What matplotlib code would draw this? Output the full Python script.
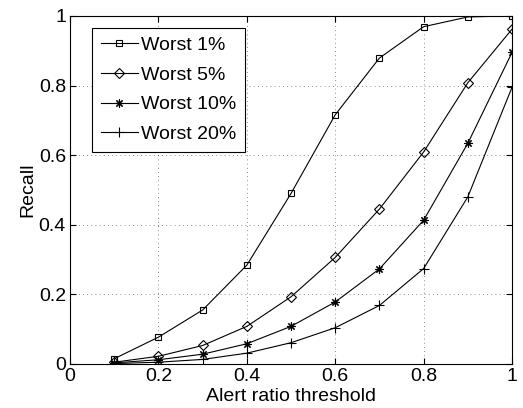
import matplotlib
matplotlib.use('Agg')
import matplotlib.pyplot as plt

plt.rcParams['font.family'] = ['Liberation Sans', 'DejaVu Sans']

# Data
threshold = [0.1, 0.2, 0.3, 0.4, 0.5, 0.6, 0.7, 0.8, 0.9, 1.0]
worst_1 = [0.015, 0.077, 0.155, 0.284, 0.49, 0.716, 0.879, 0.969, 0.997, 1.0]
worst_5 = [0.005, 0.022, 0.053, 0.108, 0.193, 0.306, 0.445, 0.609, 0.808, 0.962]
worst_10 = [0.003, 0.012, 0.028, 0.058, 0.108, 0.178, 0.273, 0.413, 0.634, 0.895]
worst_20 = [0.001, 0.005, 0.013, 0.031, 0.061, 0.104, 0.168, 0.274, 0.48, 0.795]

# label, values, marker, size
series = [
    ('Worst 1%', worst_1, 's', 5),
    ('Worst 5%', worst_5, 'D', 5),
    ('Worst 10%', worst_10, (8, 2, 0), 6),
    ('Worst 20%', worst_20, '+', 7),
]

fig = plt.figure(figsize=(5.23, 4.08), dpi=100)
ax = fig.add_axes([0.134, 0.108, 0.845, 0.853])

for label, vals, mk, ms in series:
    ax.plot(threshold, vals, color='black', lw=0.8, marker=mk, ms=ms,
            mfc='none', mec='black', mew=0.8, label=label)

ax.set_xlim(0, 1)
ax.set_ylim(0, 1)
ax.set_xticks([0, 0.2, 0.4, 0.6, 0.8, 1])
ax.set_yticks([0, 0.2, 0.4, 0.6, 0.8, 1])
ax.set_xticklabels(['0', '0.2', '0.4', '0.6', '0.8', '1'])
ax.set_yticklabels(['0', '0.2', '0.4', '0.6', '0.8', '1'])
ax.tick_params(direction='in', top=True, right=True, labelsize=14, length=4, width=0.8, pad=3)
ax.grid(True, linestyle=(0, (1, 4)), color='black', lw=0.6, alpha=0.6)
for s in ax.spines.values():
    s.set_linewidth(0.8)

ax.set_xlabel('Alert ratio threshold', fontsize=14, labelpad=2)
ax.set_ylabel('Recall', fontsize=14, labelpad=2)

leg = ax.legend(loc='upper left', bbox_to_anchor=(0.05, 0.966), borderaxespad=0,
                fontsize=14, fancybox=False, edgecolor='black', framealpha=1,
                handlelength=1.9, labelspacing=0.62, handletextpad=0.15,
                borderpad=0.45)
leg.get_frame().set_linewidth(0.8)

fig.savefig('out.png', dpi=100)
